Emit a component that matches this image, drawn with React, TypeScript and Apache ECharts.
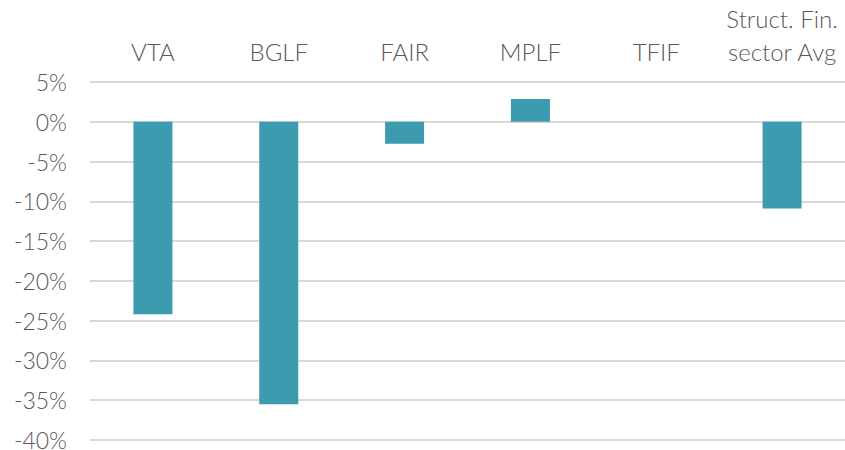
import React, { useEffect, useRef } from "react";
import * as echarts from "echarts";

const categories = ["VTA", "BGLF", "FAIR", "MPLF", "TFIF", "Struct. Fin.\nsector Avg"];
const values = [-24.2, -35.5, -2.75, 2.85, 0, -10.9];
const yMin = -40;
const yMax = 5;
const yStep = 5;

const textColor = "#595959";
const gridColor = "#d9d9d9";
const barColor = "#3d9baf";
const font = "Lato";

export default function App() {
  const ref = useRef<HTMLDivElement>(null);
  useEffect(() => {
    document.body.style.margin = "0";
    const chart = echarts.init(ref.current!, null, { renderer: "svg" });
    chart.setOption({
      animation: false,
      grid: { left: 90, right: 0, top: 82, bottom: 10, outerBoundsMode: "none", containLabel: false },
      xAxis: {
        type: "category",
        data: categories,
        position: "top",
        axisLine: { show: false },
        axisTick: { show: false },
        axisLabel: {
          color: textColor,
          fontFamily: font,
          fontWeight: 300,
          fontSize: 24,
          lineHeight: 33,
          margin: 14,
          interval: 0,
        },
      },
      yAxis: {
        type: "value",
        min: yMin,
        max: yMax,
        interval: yStep,
        axisLine: { show: false },
        axisTick: { show: false },
        splitLine: { lineStyle: { color: gridColor, width: 2 } },
        axisLabel: {
          color: textColor,
          fontFamily: font,
          fontWeight: 300,
          fontSize: 23,
          lineHeight: 16,
          margin: 23,
          formatter: (v: number) => `${v}%`,
        },
      },
      series: [
        {
          type: "bar",
          data: values,
          barWidth: 39,
          itemStyle: { color: barColor },
          z: 3,
        },
      ],
    });
    return () => chart.dispose();
  }, []);
  return <div ref={ref} style={{ width: 845, height: 450 }} />;
}
